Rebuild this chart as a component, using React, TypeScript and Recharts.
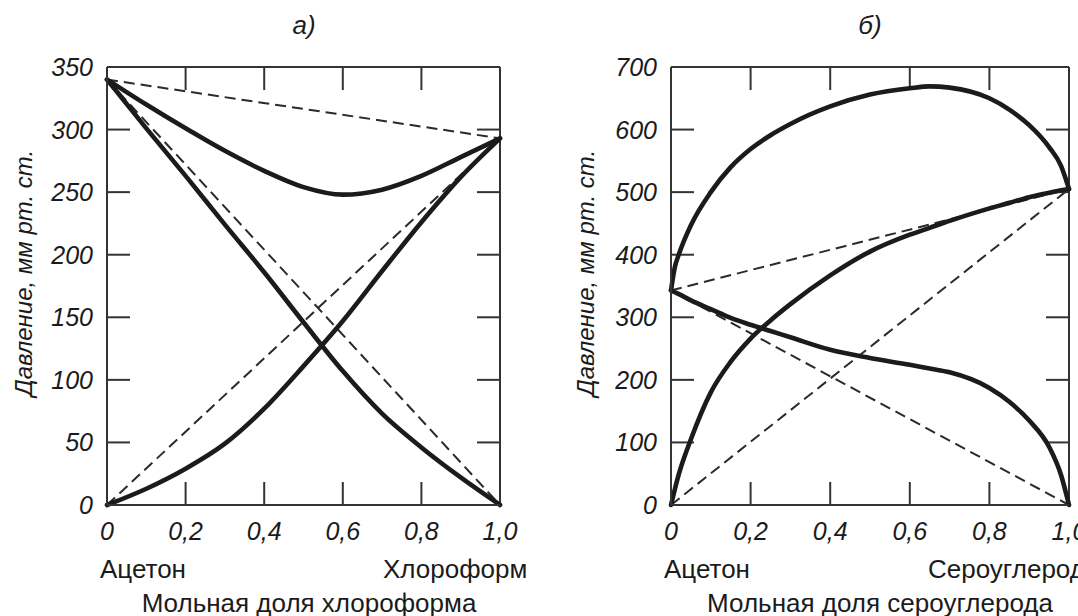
import React from 'react';
import { ComposedChart, Line, XAxis, YAxis, ReferenceLine } from 'recharts';

// ---------- shared axis data ----------
const xTicks = [0, 0.2, 0.4, 0.6, 0.8, 1.0];
const xTickLabels = ['0', '0,2', '0,4', '0,6', '0,8', '1,0'];
const innerXTicks = [0.2, 0.4, 0.6, 0.8];

// ---------- panel a) acetone – chloroform ----------
const aYTicks = [0, 50, 100, 150, 200, 250, 300, 350];
const aInnerYTicks = [50, 100, 150, 200, 250, 300];
const aGrid = [0, 0.1, 0.2, 0.3, 0.4, 0.5, 0.6, 0.7, 0.8, 0.9, 1.0];
const aTotal = [340, 320, 301, 283, 267, 254, 248, 252, 263, 278, 293];
const aAcetone = [340, 301, 263, 224, 186, 146, 107, 73, 46, 22, 0];
const aChloroform = [0, 13, 29, 49, 77, 111, 147, 187, 226, 262, 293];
const idealX = [0, 1];
const aIdealTotal = [340, 293];
const aIdealAcetone = [340, 0];
const aIdealChloroform = [0, 293];

// ---------- panel б) acetone – carbon disulfide ----------
const bYTicks = [0, 100, 200, 300, 400, 500, 600, 700];
const bInnerYTicks = [100, 200, 300, 400, 500, 600];
const bGrid = [0, 0.01, 0.02, 0.05, 0.1, 0.15, 0.2, 0.25, 0.3, 0.4, 0.5, 0.6, 0.65, 0.7, 0.8, 0.85, 0.9, 0.95, 0.98, 1.0];
const bTotal = [343, 381, 401, 447, 500, 540, 569, 591, 609, 637, 656, 666, 669, 667, 650, 632, 607, 572, 542, 505];
const bCS2 = [0, 26, 50, 105, 180, 229, 266, 295, 321, 367, 405, 432, 443, 454, 474, 483, 492, 499, 503, 505];
const bAcetone = [343, 340, 337, 327, 313, 299, 288, 278, 268, 248, 235, 224, 218, 212, 187, 165, 135, 93, 48, 0];
const bIdealTotal = [343, 505];
const bIdealAcetone = [343, 0];
const bIdealCS2 = [0, 505];

const pts = (xs: number[], ys: number[]) => xs.map((x, i) => ({ x, y: ys[i] }));
const fmtX = (v: number) => {
  const i = xTicks.indexOf(v);
  return i >= 0 ? xTickLabels[i] : String(v);
};

const FONT = '"Liberation Sans", Arial, sans-serif';
const INK = '#1b1b1b';
const FRAME_COLOR = '#333';
const TICK_LEN = 23; // px, inward tick length
const CHART_H = 616;
const M_TOP = 67;
const M_BOTTOM = 71;
const X_AXIS_H = 40;
const Y_AXIS_W = 60;
const tickTextStyle: React.CSSProperties = {
  fontFamily: FONT,
  fontStyle: 'italic',
  fontSize: 25,
  fill: INK,
};

function BottomLabel(p: any) {
  return (
    <text x={p.x} y={p.y} dy="0.72em" textAnchor="middle" style={tickTextStyle}>
      {fmtX(p.payload.value)}
    </text>
  );
}

function LeftLabel(p: any) {
  return (
    <text x={p.x} y={p.y} dy="0.36em" textAnchor="end" style={tickTextStyle}>
      {String(p.payload.value)}
    </text>
  );
}

type Series = { xs: number[]; ys: number[]; dashed?: boolean };

function Panel(props: {
  left: number;
  width: number;
  marginLeft: number;
  marginRight: number;
  yMax: number;
  yTicks: number[];
  innerYTicks: number[];
  series: Series[];
}) {
  const { left, width, marginLeft, marginRight, yMax, yTicks, innerYTicks, series } = props;
  // tick length expressed in each axis' units (plot size follows from the margins)
  const plotH = CHART_H - M_TOP - M_BOTTOM - X_AXIS_H;
  const plotW = width - marginLeft - marginRight - Y_AXIS_W;
  const dy = (yMax * TICK_LEN) / plotH;
  const dx = TICK_LEN / plotW;
  const tickSegs: { x: number; y: number }[][] = [
    ...innerXTicks.map((x) => [{ x, y: 0 }, { x, y: dy }]),
    ...innerXTicks.map((x) => [{ x, y: yMax }, { x, y: yMax - dy }]),
    ...innerYTicks.map((y) => [{ x: 0, y }, { x: dx, y }]),
    ...innerYTicks.map((y) => [{ x: 1, y }, { x: 1 - dx, y }]),
  ];
  return (
    <div style={{ position: 'absolute', left, top: 0 }}>
      <ComposedChart
        width={width}
        height={CHART_H}
        margin={{ top: M_TOP, right: marginRight, bottom: M_BOTTOM, left: marginLeft }}
      >
        <XAxis
          xAxisId="b"
          type="number"
          dataKey="x"
          domain={[0, 1]}
          ticks={xTicks}
          interval={0}
          height={X_AXIS_H}
          tickSize={8}
          tickMargin={9}
          stroke={FRAME_COLOR}
          strokeWidth={2}
          tickLine={false}
          tick={BottomLabel}
        />
        <YAxis
          yAxisId="l"
          type="number"
          dataKey="y"
          domain={[0, yMax]}
          ticks={yTicks}
          interval={0}
          width={Y_AXIS_W}
          tickSize={8}
          tickMargin={6}
          stroke={FRAME_COLOR}
          strokeWidth={2}
          tickLine={false}
          tick={LeftLabel}
        />
        <ReferenceLine xAxisId="b" yAxisId="l" y={yMax} stroke={FRAME_COLOR} strokeWidth={2} />
        <ReferenceLine xAxisId="b" yAxisId="l" x={1} stroke={FRAME_COLOR} strokeWidth={2} />
        {tickSegs.map((seg, i) => (
          <Line
            key={`t${i}`}
            xAxisId="b"
            yAxisId="l"
            data={seg}
            dataKey="y"
            type="linear"
            stroke={FRAME_COLOR}
            strokeWidth={2}
            dot={false}
            activeDot={false}
            isAnimationActive={false}
          />
        ))}
        {series.map((s, i) => (
          <Line
            key={i}
            xAxisId="b"
            yAxisId="l"
            data={pts(s.xs, s.ys)}
            dataKey="y"
            type={s.dashed ? 'linear' : 'monotone'}
            stroke={s.dashed ? '#2a2a2a' : INK}
            strokeWidth={s.dashed ? 2 : 4.6}
            strokeDasharray={s.dashed ? '11 6' : undefined}
            strokeLinecap={s.dashed ? 'butt' : 'round'}
            dot={false}
            activeDot={false}
            isAnimationActive={false}
          />
        ))}
      </ComposedChart>
    </div>
  );
}

const txt: React.CSSProperties = {
  position: 'absolute',
  fontFamily: FONT,
  color: INK,
  whiteSpace: 'nowrap',
  lineHeight: 1,
};

function YLabel({ cx, cy }: { cx: number; cy: number }) {
  return (
    <div
      style={{
        ...txt,
        left: cx - 160,
        top: cy - 15,
        width: 320,
        height: 30,
        lineHeight: '30px',
        textAlign: 'center',
        fontStyle: 'italic',
        fontSize: 24,
        transform: 'rotate(-90deg)',
        transformOrigin: '50% 50%',
      }}
    >
      Давление, мм рт. ст.
    </div>
  );
}

export default function App() {
  return (
    <div
      style={{
        position: 'absolute',
        left: 0,
        top: 0,
        width: 1078,
        height: 616,
        overflow: 'hidden',
        background: '#fff',
      }}
    >
      <Panel
        left={0}
        width={540}
        marginLeft={47}
        marginRight={40}
        yMax={350}
        yTicks={aYTicks}
        innerYTicks={aInnerYTicks}
        series={[
          { xs: idealX, ys: aIdealTotal, dashed: true },
          { xs: idealX, ys: aIdealAcetone, dashed: true },
          { xs: idealX, ys: aIdealChloroform, dashed: true },
          { xs: aGrid, ys: aTotal },
          { xs: aGrid, ys: aAcetone },
          { xs: aGrid, ys: aChloroform },
        ]}
      />
      <Panel
        left={540}
        width={538}
        marginLeft={71}
        marginRight={9}
        yMax={700}
        yTicks={bYTicks}
        innerYTicks={bInnerYTicks}
        series={[
          { xs: idealX, ys: bIdealTotal, dashed: true },
          { xs: idealX, ys: bIdealAcetone, dashed: true },
          { xs: idealX, ys: bIdealCS2, dashed: true },
          { xs: bGrid, ys: bTotal },
          { xs: bGrid, ys: bAcetone },
          { xs: bGrid, ys: bCS2 },
        ]}
      />

      {/* titles */}
      <div style={{ ...txt, left: 254, width: 100, top: 12, textAlign: 'center', fontStyle: 'italic', fontSize: 26 }}>а)</div>
      <div style={{ ...txt, left: 820, width: 100, top: 12, textAlign: 'center', fontStyle: 'italic', fontSize: 26 }}>б)</div>

      {/* y labels */}
      <YLabel cx={24} cy={273} />
      <YLabel cx={586} cy={273} />

      {/* component names */}
      <div style={{ ...txt, left: 100, top: 556, fontSize: 26 }}>Ацетон</div>
      <div style={{ ...txt, left: 383, top: 556, fontSize: 26 }}>Хлороформ</div>
      <div style={{ ...txt, left: 664, top: 556, fontSize: 26 }}>Ацетон</div>
      <div style={{ ...txt, left: 928, top: 556, fontSize: 26 }}>Сероуглерод</div>

      {/* axis titles */}
      <div style={{ ...txt, left: 109, width: 400, top: 590, textAlign: 'center', fontSize: 26 }}>
        Мольная доля хлороформа
      </div>
      <div style={{ ...txt, left: 680, width: 400, top: 590, textAlign: 'center', fontSize: 26 }}>
        Мольная доля сероуглерода
      </div>
    </div>
  );
}
